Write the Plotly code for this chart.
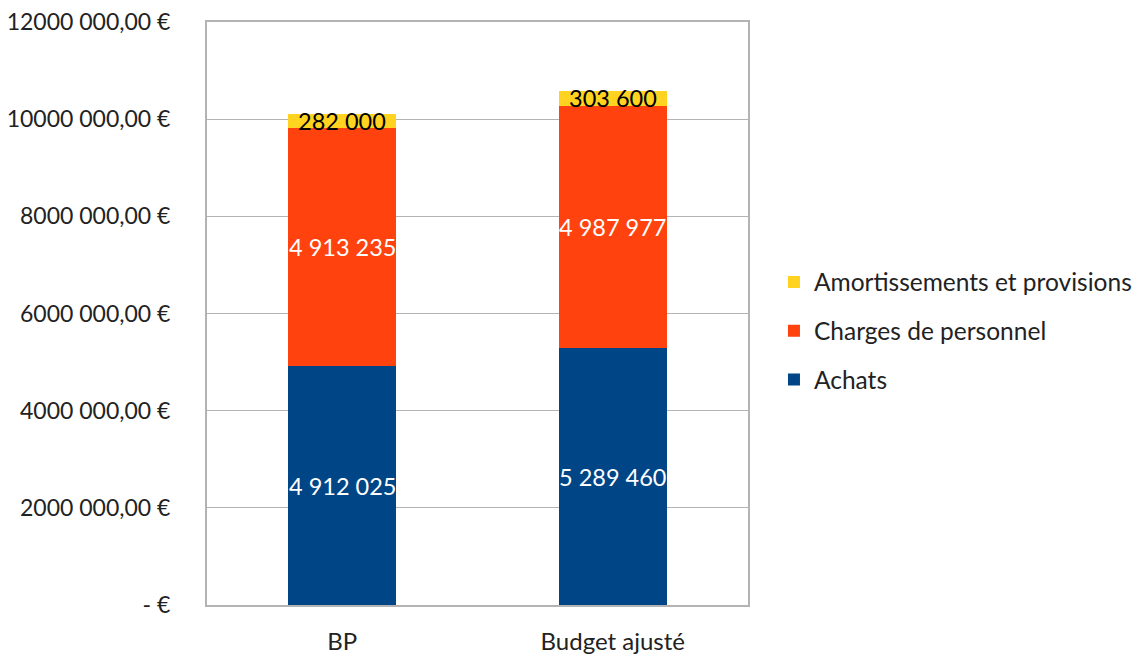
import plotly.graph_objects as go

categories = ["BP", "Budget ajusté"]
achats = [4912025, 5289460]
charges = [4913235, 4987977]
amort = [282000, 303600]

series = [
    ("Achats", achats, "#004586", "white", 3),
    ("Charges de personnel", charges, "#ff420e", "white", 2),
    ("Amortissements et provisions", amort, "#ffd320", "black", 1),
]

tick_vals = [0, 2000000, 4000000, 6000000, 8000000, 10000000, 12000000]
tick_text = ["- €", "2000 000,00 €", "4000 000,00 €", "6000 000,00 €",
             "8000 000,00 €", "10000 000,00 €", "12000 000,00 €"]

FONT = "Lato"

def fmt(v):
    return f"{v:,}".replace(",", " ")

fig = go.Figure()
base = [0] * len(categories)
annotations = []
for i, (name, vals, color, tcolor, rank) in enumerate(series):
    fig.add_trace(go.Bar(
        name=name, x=categories, y=vals, marker=dict(color=color, line=dict(width=0)),
        legendgroup=name, legendrank=rank,
    ))
    for j, c in enumerate(categories):
        annotations.append(dict(
            x=c, y=base[j] + vals[j] / 2, xref="x", yref="y", text=fmt(vals[j]),
            showarrow=False, font=dict(family=FONT, size=23.5, color=tcolor),
        ))
        base[j] += vals[j]

fig.update_layout(
    width=1142, height=655,
    barmode="stack", bargap=0.6,
    paper_bgcolor="white", plot_bgcolor="white",
    margin=dict(l=199, r=402, t=14, b=58, autoexpand=False),
    font=dict(family=FONT, size=22, color="#222222"),
    annotations=annotations,
    legend=dict(
        x=1.048, xanchor="left", y=0.47, yanchor="middle",
        traceorder="grouped", tracegroupgap=14,
        font=dict(family=FONT, size=24.5, color="#222222"),
        itemwidth=30,
    ),
    showlegend=True,
)
fig.update_xaxes(
    showline=True, linecolor="#b3b3b3", linewidth=2, mirror=True, automargin=False,
    ticks="", ticklabelstandoff=14, tickfont=dict(size=24),
)
fig.update_yaxes(
    range=[0, 12000000], tickvals=tick_vals, ticktext=tick_text,
    showgrid=True, gridcolor="#b3b3b3", gridwidth=1, automargin=False,
    showline=True, linecolor="#b3b3b3", linewidth=2, mirror=True,
    zeroline=False, ticks="", ticklabelstandoff=30, tickfont=dict(size=23),
    ticklabeloverflow="allow",
)

fig.write_html("out.html")
